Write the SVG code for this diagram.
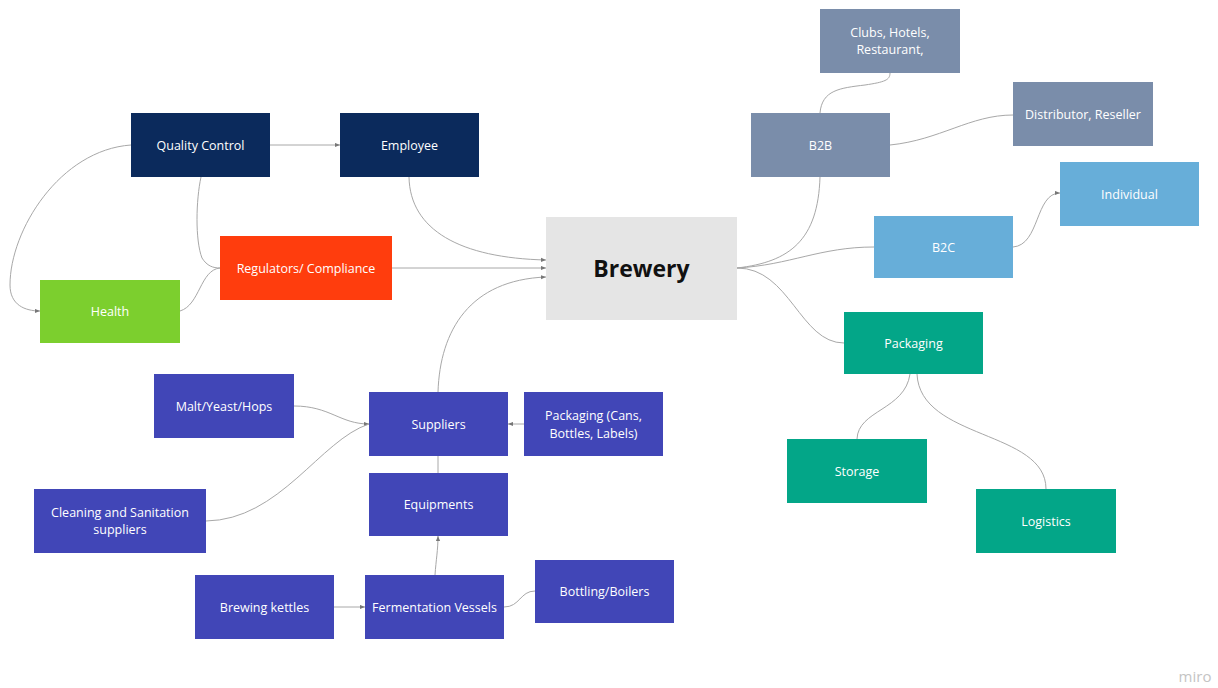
<svg xmlns="http://www.w3.org/2000/svg" width="1218" height="688" viewBox="0 0 1218 688">
<style>
.n text{font-family:"Open Sans","Liberation Sans",sans-serif;font-size:12.5px;fill:#ffffff;text-anchor:middle}
.navy rect{fill:#0b2a5c}
.red rect{fill:#ff3d0d}
.green rect{fill:#7ccf2e}
.slate rect{fill:#7a8daa}
.sky rect{fill:#67aed9}
.teal rect{fill:#03a688}
.indigo rect{fill:#4146b7}
.c path{fill:none;stroke:#a8a8a8;stroke-width:1}
</style>
<defs>
<marker id="ah" viewBox="0 0 6 6" refX="6" refY="3" markerWidth="5" markerHeight="5" orient="auto">
<path d="M0,0.5 L6,3 L0,5.5 z" fill="#777"/>
</marker>
</defs>
<rect width="1218" height="688" fill="#ffffff"/>
<g class="c" id="connectors">
<path d="M270,145 L340,145" marker-end="url(#ah)"/>
<path d="M131,145 C60,150 10,230 10,285 C10,305 25,311 40,311" marker-end="url(#ah)"/>
<path d="M201,177 C196,200 195,240 202,258 C207,266 213,268 220,268"/>
<path d="M180,311 C200,305 200,270 220,268"/>
<path d="M409,177 C410,230 460,258 546,260" marker-end="url(#ah)"/>
<path d="M392,268 L546,268" marker-end="url(#ah)"/>
<path d="M438,392 C440,330 470,280 546,277" marker-end="url(#ah)"/>
<path d="M737,268 C790,262 818,240 820,177"/>
<path d="M737,268 C790,265 820,247 874,247"/>
<path d="M737,268 C790,268 800,343 844,343"/>
<path d="M820,113 C822,90 840,88 865,85 C885,82 890,80 890,73"/>
<path d="M890,145 C940,140 970,115 1013,115"/>
<path d="M1013,247 C1040,245 1035,193 1060,193" marker-end="url(#ah)"/>
<path d="M910,374 C905,410 858,410 857,439"/>
<path d="M917,374 C920,440 1046,430 1046,489"/>
<path d="M294,406 C330,406 340,424 369,424" marker-end="url(#ah)"/>
<path d="M206,521 C280,520 320,440 369,424"/>
<path d="M524,424 L508,424" marker-end="url(#ah)"/>
<path d="M438,473 L438,456"/>
<path d="M435,575 C436,560 438,550 438,536" marker-end="url(#ah)"/>
<path d="M334,607 L365,607" marker-end="url(#ah)"/>
<path d="M504,607 C520,607 520,591 535,591"/>
</g>
<g class="n navy" id="quality-control"><rect x="131" y="113" width="139" height="64"/><text x="200.5" y="149.5">Quality Control</text></g>
<g class="n navy" id="employee"><rect x="340" y="113" width="139" height="64"/><text x="409.5" y="149.5">Employee</text></g>
<g class="n red" id="regulators"><rect x="220" y="236" width="172" height="64"/><text x="306" y="272.5">Regulators/ Compliance</text></g>
<g class="n green" id="health"><rect x="40" y="280" width="140" height="63"/><text x="110" y="316">Health</text></g>
<g id="brewery"><rect x="546" y="217" width="191" height="103" fill="#e5e5e5"/><text x="641.5" y="277" font-family="'Open Sans','Liberation Sans',sans-serif" font-size="23" font-weight="bold" fill="#111" text-anchor="middle">Brewery</text></g>
<g class="n slate" id="clubs"><rect x="820" y="9" width="140" height="64"/><text x="890" y="37">Clubs, Hotels,</text><text x="890" y="54">Restaurant,</text></g>
<g class="n slate" id="b2b"><rect x="751" y="113" width="139" height="64"/><text x="820.5" y="149.5">B2B</text></g>
<g class="n slate" id="distributor"><rect x="1013" y="82" width="140" height="64"/><text x="1083" y="118.5">Distributor, Reseller</text></g>
<g class="n sky" id="individual"><rect x="1060" y="162" width="139" height="64"/><text x="1129.5" y="198.5">Individual</text></g>
<g class="n sky" id="b2c"><rect x="874" y="216" width="139" height="62"/><text x="943.5" y="251.5">B2C</text></g>
<g class="n teal" id="packaging"><rect x="844" y="312" width="139" height="62"/><text x="913.5" y="348">Packaging</text></g>
<g class="n teal" id="storage"><rect x="787" y="439" width="140" height="64"/><text x="857" y="475.5">Storage</text></g>
<g class="n teal" id="logistics"><rect x="976" y="489" width="140" height="64"/><text x="1046" y="525.5">Logistics</text></g>
<g class="n indigo" id="malt"><rect x="154" y="374" width="140" height="64"/><text x="224" y="410.5">Malt/Yeast/Hops</text></g>
<g class="n indigo" id="cleaning"><rect x="34" y="489" width="172" height="64"/><text x="120" y="516.5">Cleaning and Sanitation</text><text x="120" y="534">suppliers</text></g>
<g class="n indigo" id="suppliers"><rect x="369" y="392" width="139" height="64"/><text x="438.5" y="428.5">Suppliers</text></g>
<g class="n indigo" id="packaging-cans"><rect x="524" y="392" width="139" height="64"/><text x="593.5" y="420">Packaging (Cans,</text><text x="593.5" y="438">Bottles, Labels)</text></g>
<g class="n indigo" id="equipments"><rect x="369" y="473" width="139" height="63"/><text x="438.5" y="509">Equipments</text></g>
<g class="n indigo" id="brewing-kettles"><rect x="195" y="575" width="139" height="64"/><text x="264.5" y="611.5">Brewing kettles</text></g>
<g class="n indigo" id="fermentation"><rect x="365" y="575" width="139" height="64"/><text x="434.5" y="611.5">Fermentation Vessels</text></g>
<g class="n indigo" id="bottling"><rect x="535" y="560" width="139" height="63"/><text x="604.5" y="596">Bottling/Boilers</text></g>
<text x="1195" y="682" font-family="'Open Sans','Liberation Sans',sans-serif" font-size="15" fill="#c4c4c4" text-anchor="middle">miro</text>
</svg>
